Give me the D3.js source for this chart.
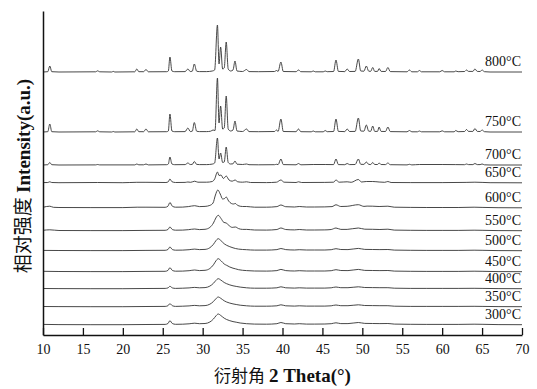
<!DOCTYPE html>
<html><head><meta charset="utf-8">
<script src="https://cdn.jsdelivr.net/npm/d3@7"></script>
<style>
html,body{margin:0;padding:0;background:#fff;}
svg{display:block;}
</style>
</head><body>
<svg id="chart" width="537" height="389"></svg>
<script>
// ---- data ----
const temps = [300, 350, 400, 450, 500, 550, 600, 650, 700, 750, 800];
const stackOffsets = [10, 28, 46, 63, 84, 104, 127, 152, 170, 203, 263];
const xTicks = [10, 15, 20, 25, 30, 35, 40, 45, 50, 55, 60, 65, 70];

const p300 = [[10,0.6],[12,0.4],[16,0.3],[20,0.3],[22.9,0.5],[25.3,0.6],[25.65,1.5],[25.9,4.3],[26.2,1.5],[26.6,0.7],[27.5,0.8],[28.3,1.2],[29,1.8],[29.6,1.3],[30.3,1.5],[30.9,3],[31.35,6],[31.65,9],[31.95,11],[32.3,9.3],[32.7,6.8],[33.0,5.5],[33.4,4.3],[33.8,3.4],[34.2,2.8],[34.7,2],[35.5,1.3],[36.5,0.9],[38,0.8],[39.3,1.3],[39.8,2.5],[40.4,1.3],[41.5,1],[42.1,1.3],[43,0.9],[44,0.9],[45.3,1],[46.1,1.3],[46.7,2.2],[47.3,1.4],[48.2,1.4],[49.5,2.5],[50.3,1.6],[51.3,1.5],[52.2,1.4],[53.2,1.5],[54,0.9],[56,0.7],[58,0.6],[60,0.6],[62,0.6],[64,0.8],[65,0.7],[67,0.4],[70,0.3]];
const p350 = [[10,0.5],[12,0.4],[16,0.3],[20,0.3],[22.9,0.5],[25.3,0.6],[25.65,1.3],[25.9,3.3],[26.2,1.3],[26.6,0.6],[27.5,0.8],[28.3,1.1],[29,1.6],[29.6,1.2],[30.3,1.4],[30.9,2.8],[31.35,5.5],[31.65,8.2],[31.95,10],[32.3,8.5],[32.7,6.2],[33.0,5],[33.4,3.9],[33.8,3.1],[34.2,2.5],[34.7,1.8],[35.5,1.2],[36.5,0.8],[38,0.8],[39.3,1.2],[39.8,2.2],[40.4,1.2],[41.5,0.9],[42.1,1.2],[43,0.9],[44,0.9],[45.3,0.9],[46.1,1.2],[46.7,2],[47.3,1.3],[48.2,1.3],[49.5,2.2],[50.3,1.5],[51.3,1.4],[52.2,1.3],[53.2,1.3],[54,0.8],[56,0.6],[58,0.6],[60,0.6],[62,0.6],[64,0.7],[65,0.6],[67,0.4],[70,0.3]];
const p400 = [[10,0.5],[12,0.4],[16,0.3],[20,0.3],[22.9,0.5],[25.3,0.6],[25.65,1.1],[25.9,2.7],[26.2,1.1],[26.6,0.6],[27.5,0.8],[28.3,1.1],[29,1.6],[29.6,1.2],[30.3,1.4],[30.9,2.9],[31.35,5.7],[31.65,8.5],[31.95,10.3],[32.3,8.8],[32.7,6.5],[33.0,5.3],[33.4,4.1],[33.8,3.2],[34.2,2.6],[34.7,1.9],[35.5,1.2],[36.5,0.8],[38,0.8],[39.3,1.2],[39.8,2.2],[40.4,1.2],[41.5,0.9],[42.1,1.2],[43,0.9],[44,0.9],[45.3,0.9],[46.1,1.2],[46.7,2],[47.3,1.3],[48.2,1.3],[49.5,2.2],[50.3,1.5],[51.3,1.4],[52.2,1.3],[53.2,1.3],[54,0.8],[56,0.6],[58,0.6],[60,0.6],[62,0.6],[64,0.7],[65,0.6],[67,0.4],[70,0.3]];
const p450 = [[10,0.7],[12,0.5],[16,0.4],[20,0.4],[22.9,0.6],[25.3,0.7],[25.65,1.6],[25.9,4.3],[26.2,1.6],[26.6,0.8],[27.5,0.9],[28.3,1.3],[29,2],[29.6,1.4],[30.3,1.7],[30.9,3.5],[31.35,7.2],[31.65,11],[31.95,13.3],[32.3,11.2],[32.7,8],[33.0,6.7],[33.4,5],[33.8,3.8],[34.1,3.2],[34.5,2.3],[35.5,1.4],[36.5,1],[38,0.9],[39.3,1.4],[39.8,2.6],[40.4,1.4],[41.5,1],[42.1,1.3],[43,1],[44,1],[45.3,1],[46.1,1.3],[46.7,2.3],[47.3,1.5],[48.2,1.4],[49.5,2.6],[50.3,1.6],[51.3,1.5],[52.2,1.4],[53.2,1.5],[54,0.9],[56,0.7],[58,0.6],[60,0.6],[62,0.6],[64,0.8],[65,0.7],[67,0.4],[70,0.3]];
const p500 = [[10,0.6],[12,0.5],[16,0.4],[20,0.4],[22.9,0.6],[25.3,0.7],[25.65,1.5],[25.9,4],[26.2,1.5],[26.6,0.8],[27.5,0.9],[28.3,1.3],[29,1.9],[29.6,1.4],[30.3,1.6],[30.9,3.3],[31.35,6.7],[31.65,10.2],[31.95,12.3],[32.3,10.3],[32.7,7.2],[33.0,5.7],[33.4,4.3],[33.8,3.2],[34.1,2.5],[34.5,1.9],[35.5,1.3],[36.5,0.9],[38,0.9],[39.3,1.4],[39.8,2.5],[40.4,1.4],[41.5,1],[42.1,1.3],[43,1],[44,1],[45.3,1],[46.1,1.3],[46.7,2.3],[47.3,1.5],[48.2,1.4],[49.5,2.6],[50.3,1.6],[51.3,1.5],[52.2,1.4],[53.2,1.5],[54,0.9],[56,0.7],[58,0.6],[60,0.6],[62,0.6],[64,0.8],[65,0.7],[67,0.4],[70,0.3]];
const p550 = [[10,0.7],[10.85,1.2],[12,0.5],[16,0.4],[20,0.4],[22.9,0.6],[25.3,0.7],[25.65,1.5],[25.9,4],[26.2,1.5],[26.6,0.8],[27.5,0.9],[28.2,1.3],[29,2],[29.6,1.4],[30.3,1.7],[30.9,3.6],[31.35,8],[31.65,13],[31.95,15.7],[32.3,12.5],[32.65,8.6],[32.95,8],[33.3,5.5],[33.7,3.6],[34.1,4],[34.5,2.4],[35,1.6],[35.5,1.6],[36.5,1],[38,0.9],[39.3,1.5],[39.8,3],[40.4,1.5],[41.5,1.1],[42.1,1.5],[43,1],[44,1],[45.3,1.1],[46.1,1.5],[46.7,3],[47.3,1.6],[48.1,1.6],[49.5,3],[50.3,1.8],[51.3,1.7],[52.2,1.5],[53.2,1.8],[54,0.9],[56,0.7],[58,0.6],[60,0.6],[62,0.6],[64,0.8],[65,0.7],[67,0.4],[70,0.3]];
const p600 = [[10,0.7],[10.85,1.8],[11.3,0.7],[12,0.5],[16,0.4],[20,0.4],[21.8,0.8],[22.9,0.8],[25.3,0.7],[25.65,1.8],[25.9,5.5],[26.2,1.8],[26.6,0.8],[27.5,0.9],[28.2,1.4],[29,2.3],[29.6,1.4],[30.3,1.6],[30.9,2.6],[31.3,5],[31.6,13],[31.9,18],[32.2,14],[32.5,9],[32.75,9.5],[32.95,11],[33.25,7],[33.6,4.5],[33.85,4],[34.1,4.5],[34.4,2.5],[35,1.5],[35.5,1.5],[36.5,0.8],[38,0.8],[39.3,1.4],[39.8,3],[40.4,1.3],[41.5,1],[42.1,1.5],[43,1],[44,1],[45.3,1.1],[46.2,1.4],[46.7,3.2],[47.3,1.5],[48.1,1.7],[49.5,3.3],[50.2,1.6],[50.6,1.9],[51.3,1.8],[52.1,1.5],[53.2,1.8],[54,0.8],[56,0.6],[58,0.5],[60,0.5],[62,0.5],[64,0.8],[65,0.6],[67,0.3],[70,0.2]];
const p650 = [[10,0.4],[10.6,0.5],[10.85,1.2],[11.1,0.5],[12,0.3],[16.85,0.5],[20,0.3],[21.75,0.7],[22.9,0.7],[25.4,0.5],[25.7,1.3],[25.9,4],[26.15,1.3],[26.6,0.5],[27.8,0.6],[28.15,1],[28.5,0.7],[29,1.8],[29.4,0.8],[30.5,0.8],[31.2,1.5],[31.5,4],[31.85,11],[32.05,7.5],[32.3,8],[32.6,4.5],[32.95,7],[33.3,3],[33.7,1.8],[34.05,3],[34.4,1.2],[35,0.8],[35.5,1.2],[36,0.5],[38,0.4],[39.25,0.8],[39.8,3],[40.2,0.8],[41.7,0.5],[42.0,1.2],[42.4,0.5],[45.3,0.6],[46.4,0.8],[46.7,3],[47.1,0.8],[48.1,1.2],[48.6,0.7],[49.5,3.5],[49.9,1],[50.5,1.5],[51.3,1.5],[52.1,1],[52.8,0.7],[53.2,1.5],[53.6,0.5],[56,0.4],[60,0.4],[63,0.6],[64.1,0.8],[65,0.6],[66,0.3],[70,0.2]];
const p700 = [[10,0],[10.6,0.3],[10.85,2.5],[11.1,0.3],[12,0],[16.6,0.1],[16.85,0.5],[17.1,0.1],[21.5,0.1],[21.75,1],[22.0,0.2],[22.6,0.2],[22.9,1],[23.2,0.1],[25.5,0.3],[25.7,1],[25.9,8],[26.15,1],[26.5,0.3],[27.8,0.4],[28.15,2],[28.45,0.5],[28.7,0.6],[28.95,3.5],[29.25,0.6],[29.6,0.4],[30.5,0.4],[31.2,0.9],[31.5,2],[31.85,27],[32.05,6],[32.25,12],[32.5,2.5],[32.7,3],[32.95,18],[33.2,2.5],[33.5,1],[33.8,1.2],[34.05,4],[34.3,0.8],[35,0.5],[35.5,1],[35.8,0.3],[37,0.2],[39,0.3],[39.25,0.7],[39.45,0.4],[39.8,6],[40.1,0.4],[41.7,0.2],[42.0,1.5],[42.3,0.2],[43.85,0.5],[45.35,0.5],[46.4,0.4],[46.7,6],[47.0,0.4],[47.8,0.3],[48.1,1.5],[48.4,0.4],[49.1,0.5],[49.5,6],[49.8,0.7],[50.2,0.6],[50.5,3],[50.8,0.6],[51.05,0.5],[51.3,2.5],[51.55,0.5],[51.9,0.5],[52.1,2],[52.35,0.5],[52.9,0.4],[53.2,2],[53.5,0.3],[55.6,0.1],[55.9,0.7],[56.2,0.1],[57.15,0.5],[60.0,0.5],[61.7,0.4],[62.8,0.3],[63.05,1],[63.3,0.4],[63.85,0.4],[64.1,1.5],[64.4,0.4],[64.75,0.4],[65.0,1],[65.3,0.2],[66,0],[70,0]];
const p750 = [[10,0],[10.6,0.3],[10.85,8],[11.1,0.3],[12,0],[16.6,0.2],[16.85,1.2],[17.1,0.2],[18.6,0],[18.8,0.5],[19.0,0],[21.5,0.2],[21.75,3],[22.0,0.3],[22.6,0.3],[22.9,3],[23.2,0.2],[25.5,0.3],[25.7,1],[25.9,18],[26.15,1],[26.5,0.3],[27.8,0.4],[28.15,4],[28.45,0.5],[28.7,0.8],[28.95,9.5],[29.25,0.8],[29.6,0.4],[30.5,0.4],[31.0,0.8],[31.3,2],[31.55,1.5],[31.85,54],[32.05,9],[32.25,26],[32.5,3],[32.7,4],[32.95,36],[33.2,3],[33.5,1],[33.8,2],[34.05,11],[34.3,1],[35,0.5],[35.5,3],[35.8,0.4],[37,0.3],[39,0.5],[39.25,2],[39.45,0.6],[39.8,13],[40.1,0.5],[41.7,0.3],[42.0,3],[42.3,0.3],[43.6,0.2],[43.85,1],[44.1,0.2],[45.1,0.2],[45.35,1.5],[45.6,0.3],[46.4,0.5],[46.7,13],[47.0,0.6],[47.8,0.4],[48.1,3],[48.4,0.5],[49.1,0.6],[49.5,14],[49.8,1],[50.2,0.8],[50.5,7],[50.8,0.8],[51.05,0.7],[51.3,6],[51.55,0.6],[51.9,0.6],[52.1,5],[52.35,0.6],[52.9,0.5],[53.2,5],[53.5,0.4],[55.6,0.2],[55.9,1.5],[56.2,0.2],[56.9,0.2],[57.15,1],[57.4,0.2],[59.7,0.2],[60.0,1.2],[60.3,0.2],[61.5,0.2],[61.7,1.5],[62.0,0.3],[62.8,0.5],[63.05,2.5],[63.3,0.6],[63.85,0.6],[64.1,3.5],[64.4,0.6],[64.75,0.5],[65.0,2],[65.3,0.3],[66,0],[70,0]];
const p800 = [[10,0],[10.6,0.3],[10.85,6],[11.1,0.3],[12,0],[16.6,0.2],[16.85,1.2],[17.1,0.2],[18.6,0],[18.8,0.6],[19.0,0],[21.5,0.2],[21.75,3],[22.0,0.3],[22.6,0.3],[22.9,2.5],[23.2,0.2],[25.5,0.3],[25.7,1],[25.9,15],[26.15,1],[26.5,0.3],[27.8,0.4],[28.15,3],[28.45,0.5],[28.7,0.8],[28.95,8],[29.25,0.8],[29.6,0.4],[30.5,0.4],[31.2,1],[31.5,2],[31.85,47],[32.05,8],[32.25,25],[32.5,3],[32.7,4],[32.95,30],[33.2,3],[33.5,1],[33.8,2],[34.05,11],[34.3,1],[35,0.5],[35.5,2.5],[35.8,0.4],[37,0.3],[39,0.5],[39.25,1.5],[39.45,0.6],[39.8,10],[40.1,0.5],[41.7,0.3],[42.0,2],[42.3,0.3],[43.6,0.2],[43.85,1],[44.1,0.2],[45.1,0.2],[45.35,1],[45.6,0.3],[46.4,0.5],[46.7,12],[47.0,0.6],[47.8,0.4],[48.1,3],[48.4,0.5],[49.1,0.6],[49.5,13],[49.8,1],[50.2,0.8],[50.5,6],[50.8,0.8],[51.05,0.7],[51.3,4.5],[51.55,0.6],[51.9,0.6],[52.1,3.5],[52.35,0.6],[52.9,0.5],[53.2,4.5],[53.5,0.4],[55.6,0.2],[55.9,2],[56.2,0.2],[56.9,0.2],[57.15,1.5],[57.4,0.2],[59.7,0.2],[60.0,1.5],[60.3,0.2],[61.5,0.2],[61.7,1],[62.0,0.3],[62.8,0.5],[63.05,2],[63.3,0.6],[63.85,0.6],[64.1,3],[64.4,0.6],[64.75,0.5],[65.0,2],[65.3,0.3],[66,0],[70,0]];
const patterns = [p300, p350, p400, p450, p500, p550, p600, p650, p700, p750, p800];

// ---- drawing ----
const svg = d3.select("#chart");
const margin = {left: 43, right: 15, top: 11, bottom: 54};
const W = 537, H = 389;
const x = d3.scaleLinear().domain([10, 70]).range([margin.left, W - margin.right]);
const y = d3.scaleLinear().domain([0, 324]).range([H - margin.bottom, margin.top]);

const line = d3.line()
  .x(d => x(d[0]))
  .curve(d3.curveMonotoneX);

const g = svg.append("g");
patterns.forEach((pts, i) => {
  const off = stackOffsets[i];
  g.append("path")
    .datum(pts)
    .attr("fill", "none")
    .attr("stroke", "#333")
    .attr("stroke-width", 0.9)
    .attr("stroke-linejoin", "round")
    .attr("d", line.y(d => y(d[1] + off)));
  g.append("text")
    .attr("x", x(70) - 1)
    .attr("y", y(off) - 6)
    .attr("text-anchor", "end")
    .attr("font-family", "'Liberation Serif','Times New Roman',serif")
    .attr("font-size", 14)
    .attr("fill", "#111")
    .text(temps[i] + "°C");
});

// x axis
const xAxis = d3.axisBottom(x).tickValues(xTicks).tickSizeInner(-7).tickSizeOuter(0).tickPadding(9)
  .tickFormat(d3.format("d"));
const gx = svg.append("g").attr("transform", `translate(0,${y(0)})`).call(xAxis);
gx.select(".domain").attr("stroke", "#111").attr("stroke-width", 1.5);
gx.selectAll(".tick line").attr("stroke", "#111").attr("stroke-width", 1.3);
gx.selectAll(".tick text").attr("font-family", "'Liberation Serif','Times New Roman',serif")
  .attr("font-size", 14).attr("fill", "#111");

// y axis (line only)
const yAxis = d3.axisLeft(y).tickValues([]).tickSizeOuter(0);
const gy = svg.append("g").attr("transform", `translate(${margin.left},0)`).call(yAxis);
gy.select(".domain").attr("stroke", "#111").attr("stroke-width", 1.5);

// axis titles
const xt = svg.append("text")
  .attr("x", (x(10) + x(70)) / 2)
  .attr("y", 382)
  .attr("text-anchor", "middle")
  .attr("fill", "#111");
xt.append("tspan").attr("font-family", "'Noto Sans CJK SC',sans-serif").attr("font-size", 17).text("衍射角 ");
xt.append("tspan").attr("font-family", "'Liberation Serif','Times New Roman',serif").attr("font-size", 19).attr("font-weight", "bold").text("2 Theta(°)");

const yt = svg.append("text")
  .attr("transform", `translate(30,${(y(0) + y(324)) / 2 + 3}) rotate(-90)`)
  .attr("text-anchor", "middle")
  .attr("fill", "#111");
yt.append("tspan").attr("font-family", "'Noto Sans CJK SC',sans-serif").attr("font-size", 19).text("相对强度 ");
yt.append("tspan").attr("font-family", "'Liberation Serif','Times New Roman',serif").attr("font-size", 19).attr("font-weight", "bold").text("Intensity(a.u.)");
</script>
</body></html>
